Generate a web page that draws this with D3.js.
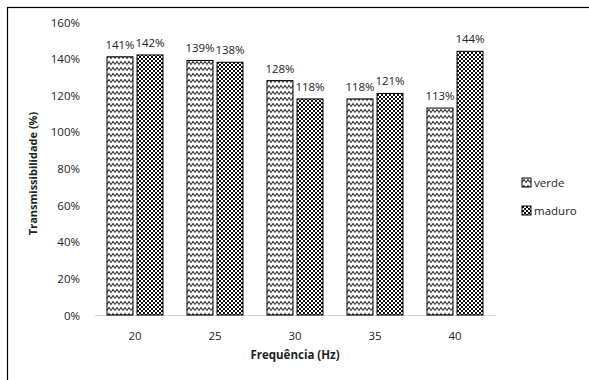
<!DOCTYPE html>
<html>
<head>
<meta charset="utf-8">
<script src="https://cdn.jsdelivr.net/npm/d3@7"></script>
<style>
  body { margin: 0; background: #fff; }
  svg text { font-family: "Open Sans", "Liberation Sans", sans-serif; fill: #222; }
</style>
</head>
<body>
<script>
const categories = ['20', '25', '30', '35', '40'];
const seriesNames = ['verde', 'maduro'];
const verde = [141, 139, 128, 118, 113];
const maduro = [142, 138, 118, 121, 144];
const yTicks = [0, 20, 40, 60, 80, 100, 120, 140, 160];

const W = 589, H = 380;
const M = {left: 95, right: 495, top: 22, bottom: 315};

const svg = d3.select('body').append('svg')
    .attr('width', W)
    .attr('height', H);

// patterns
const defs = svg.append('defs');
const zig = defs.append('pattern')
    .attr('id', 'pat-verde')
    .attr('patternUnits', 'userSpaceOnUse')
    .attr('width', 8).attr('height', 6);
zig.append('rect').attr('width', 8).attr('height', 6).attr('fill', '#fff');
zig.append('polyline')
    .attr('points', '0,4.5 2,1.5 4,4.5 6,1.5 8,4.5')
    .attr('fill', 'none')
    .attr('stroke', '#3a3a3a')
    .attr('stroke-width', 1.1);

const chk = defs.append('pattern')
    .attr('id', 'pat-maduro')
    .attr('patternUnits', 'userSpaceOnUse')
    .attr('width', 4).attr('height', 4);
chk.append('rect').attr('width', 4).attr('height', 4).attr('fill', '#fff');
chk.append('rect').attr('width', 2).attr('height', 2).attr('fill', '#111');
chk.append('rect').attr('x', 2).attr('y', 2).attr('width', 2).attr('height', 2).attr('fill', '#111');

// frame
svg.append('rect')
    .attr('x', 7.5).attr('y', 7.5)
    .attr('width', 600).attr('height', 400)
    .attr('fill', 'none')
    .attr('stroke', '#000')
    .attr('stroke-width', 1.2);

const x = d3.scaleBand()
    .domain(categories)
    .range([M.left, M.right])
    .paddingInner(0.3)
    .paddingOuter(0.15);

const xs = d3.scaleBand()
    .domain(seriesNames)
    .range([0, x.bandwidth()])
    .paddingInner(0.135);

const y = d3.scaleLinear()
    .domain([0, 160])
    .range([M.bottom, M.top]);

// y axis
const yAxis = svg.append('g')
    .attr('transform', `translate(${M.left - 12},0)`)
    .call(d3.axisLeft(y).tickValues(yTicks).tickFormat(d => d + '%').tickSize(0));
yAxis.select('.domain').remove();
yAxis.selectAll('text').style('font-size', '11.5px').attr('dy', '0.35em');

// x axis
const xAxis = svg.append('g')
    .attr('transform', `translate(0,${M.bottom})`)
    .call(d3.axisBottom(x).tickSize(0));
xAxis.select('.domain').attr('stroke', '#d0d0d0').attr('d', `M${M.left},0.5H${M.right}`);
xAxis.selectAll('text').style('font-size', '11.5px').attr('dy', '1.95em');

// bars
const data = categories.map((c, i) => ({cat: c, vals: [
    {name: 'verde', v: verde[i]},
    {name: 'maduro', v: maduro[i]}
]}));

const grp = svg.selectAll('.grp')
    .data(data)
    .enter()
    .append('g')
    .attr('transform', d => `translate(${x(d.cat)},0)`);

grp.selectAll('rect')
    .data(d => d.vals)
    .enter()
    .append('rect')
    .attr('x', d => xs(d.name))
    .attr('y', d => y(d.v))
    .attr('width', xs.bandwidth())
    .attr('height', d => y(0) - y(d.v))
    .attr('fill', d => `url(#pat-${d.name})`)
    .attr('stroke', '#000')
    .attr('stroke-width', 1);

grp.selectAll('.lbl')
    .data(d => d.vals)
    .enter()
    .append('text')
    .attr('x', d => xs(d.name) + xs.bandwidth() / 2)
    .attr('y', d => y(d.v) - 8)
    .attr('text-anchor', 'middle')
    .style('font-size', '11.5px')
    .text(d => d.v + '%');

// axis titles
svg.append('text')
    .attr('transform', `translate(37,${(M.top + M.bottom) / 2 + 5}) rotate(-90)`)
    .attr('text-anchor', 'middle')
    .style('font-size', '11px')
    .style('font-weight', 'bold')
    .text('Transmissibilidade (%)');

svg.append('text')
    .attr('x', (M.left + M.right) / 2)
    .attr('y', 359)
    .attr('text-anchor', 'middle')
    .style('font-size', '11.5px')
    .style('font-weight', 'bold')
    .text('Frequência (Hz)');

// legend
const leg = svg.selectAll('.leg')
    .data(seriesNames)
    .enter()
    .append('g')
    .attr('transform', (d, i) => `translate(522,${178 + i * 28})`);

leg.append('rect')
    .attr('width', 9).attr('height', 9)
    .attr('fill', d => `url(#pat-${d})`)
    .attr('stroke', '#000');

leg.append('text')
    .attr('x', 12)
    .attr('y', 5)
    .attr('dy', '0.35em')
    .style('font-size', '11.5px')
    .text(d => d);
</script>
</body>
</html>
